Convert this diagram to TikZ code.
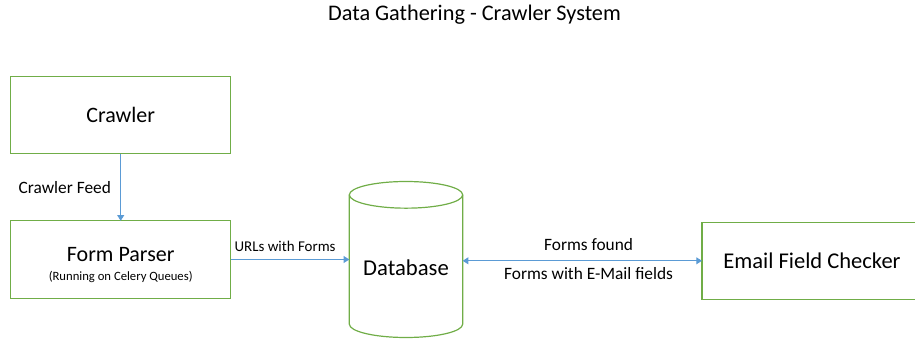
\documentclass[tikz,border=0pt]{standalone}
\usepackage{fontspec}
\setmainfont{Carlito}
\usetikzlibrary{positioning,arrows.meta}
\definecolor{boxgreen}{HTML}{70AD47}
\definecolor{flowblue}{HTML}{5B9BD5}

\begin{document}
\begin{tikzpicture}[x=0.75pt,y=-0.75pt,
		box/.style={draw=boxgreen,line width=0.9pt,outer sep=0pt,align=center,minimum width=165pt,minimum height=58pt,font=\fontsize{16.5}{20}\selectfont},
		flow/.style={draw=flowblue,line width=0.75pt,-{Triangle[length=4.3pt,width=5.2pt]}},
		flowlabel/.style={font=\fontsize{13}{15}\selectfont,inner sep=0pt}]
		\useasboundingbox (0,0) rectangle (915,339);
		\node[font=\fontsize{16.7}{20}\selectfont] (title) at (474.5,15) {Data Gathering - Crawler System};

		\node[box] (crawler) at (120.7,115) {Crawler};
		\node[box] (parser) at (120.7,259.5) {\rule{0pt}{18.5pt}Form Parser\\[-6pt]{\fontsize{9.5}{11}\selectfont (Running on Celery Queues)}};
		\node[box,font=\fontsize{16.9}{20}\selectfont] (checker) at (812,260.8) {Email Field Checker};

		% database cylinder
		\node[minimum width=85pt,minimum height=97pt,outer sep=0pt,inner sep=0pt] (db) at (406,259.5) {};
		\node[font=\fontsize{17}{20}\selectfont] (dbname) at ([yshift=-6.5pt]db.center) {Database};
		\draw[boxgreen,line width=0.9pt] (db.north west) -- (db.south west) arc[start angle=180,end angle=360,x radius=42.5pt,y radius=10pt] -- (db.north east);
		\draw[boxgreen,line width=0.9pt] (db.north) ellipse [x radius=42.5pt,y radius=10pt];

		\draw[flow] (crawler) -- node[flowlabel,left=7pt] {Crawler Feed} (parser);
		\draw[flow] (parser.east) -- node[flowlabel,font=\fontsize{11.2}{13}\selectfont,above=5.5pt,xshift=-3.7pt] {URLs with Forms} (parser.east -| db.west);
		\draw[flow,{Triangle[length=4.3pt,width=5.2pt]}-{Triangle[length=4.3pt,width=5.2pt]}] (checker.west) -- node[flowlabel,above=7pt,xshift=4.7pt] {Forms found} node[flowlabel,below=4.6pt,xshift=4.7pt] {Forms with E-Mail fields} (checker.west -| db.east);
	\end{tikzpicture}
\end{document}
